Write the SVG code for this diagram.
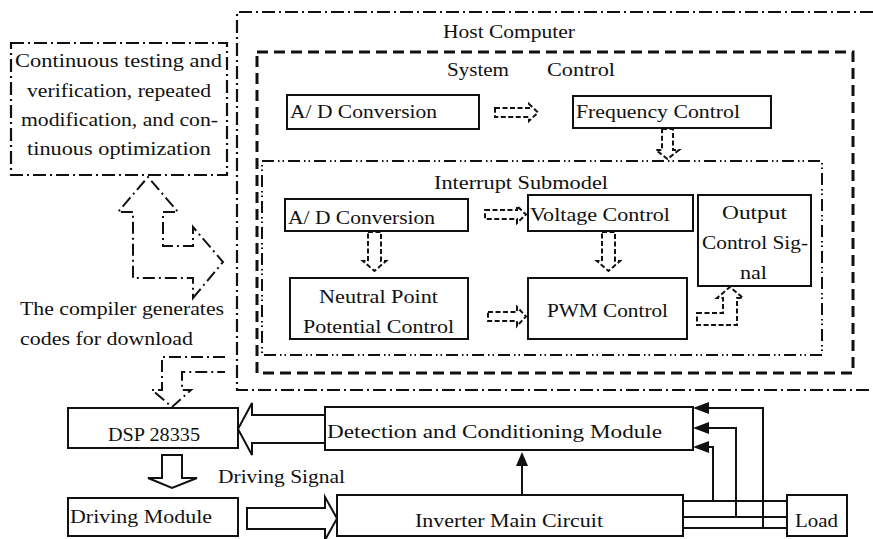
<svg xmlns="http://www.w3.org/2000/svg" width="873" height="539" viewBox="0 0 873 539">
<style>
.t{font-family:"Liberation Serif","Times New Roman",serif;font-size:19px;fill:#111}
.box{fill:#fff;stroke:#111;stroke-width:2}
.dd{fill:none;stroke:#111;stroke-width:2.2;stroke-dasharray:13 4 2 4}
.ddd{fill:none;stroke:#111;stroke-width:2;stroke-dasharray:12 4 1.5 3 1.5 4}
.dash{fill:none;stroke:#111;stroke-width:3;stroke-dasharray:11 6}
.ha{fill:#fff;stroke:#111;stroke-width:2;stroke-dasharray:5 2.5}
.hd{fill:none;stroke:#111;stroke-width:2;stroke-dasharray:12 4 2 4}
.hs{fill:#fff;stroke:#111;stroke-width:2}
.ln{fill:none;stroke:#111;stroke-width:2}
.fh{fill:#111;stroke:none}
</style>
<rect width="873" height="539" fill="#fff"/>

<g id="host-computer">
<path class="dd" d="M873 12 H237 V390 H873"/>
<text class="t" x="443" y="38" textLength="132" lengthAdjust="spacingAndGlyphs">Host Computer</text>
</g>

<g id="system-control">
<rect class="dash" x="257" y="52" width="596" height="321"/>
<text class="t" x="447" y="76" textLength="62" lengthAdjust="spacingAndGlyphs">System</text>
<text class="t" x="547" y="76" textLength="68" lengthAdjust="spacingAndGlyphs">Control</text>
</g>

<g id="ad-conversion-top">
<rect class="box" x="287" y="95" width="192" height="34"/>
<text class="t" x="290" y="118" textLength="147" lengthAdjust="spacingAndGlyphs">A/ D Conversion</text>
</g>

<g id="frequency-control">
<rect class="box" x="573" y="96" width="198" height="32"/>
<text class="t" x="576" y="118" textLength="164" lengthAdjust="spacingAndGlyphs">Frequency Control</text>
</g>

<g id="interrupt-submodel">
<rect class="ddd" x="262" y="161" width="560" height="194"/>
<text class="t" x="434" y="189" textLength="174" lengthAdjust="spacingAndGlyphs">Interrupt Submodel</text>
</g>

<g id="ad-conversion-int">
<rect class="box" x="285" y="199" width="183" height="32"/>
<text class="t" x="288" y="224" textLength="147" lengthAdjust="spacingAndGlyphs">A/ D Conversion</text>
</g>

<g id="voltage-control">
<rect class="box" x="528" y="195" width="165" height="36"/>
<text class="t" x="530" y="221" textLength="140" lengthAdjust="spacingAndGlyphs">Voltage Control</text>
</g>

<g id="output-control-signal">
<rect class="box" x="698" y="195" width="113" height="91"/>
<text class="t" x="722" y="219" textLength="65" lengthAdjust="spacingAndGlyphs">Output</text>
<text class="t" x="702" y="249" textLength="106" lengthAdjust="spacingAndGlyphs">Control Sig-</text>
<text class="t" x="740" y="279" textLength="27" lengthAdjust="spacingAndGlyphs">nal</text>
</g>

<g id="neutral-point">
<rect class="box" x="290" y="278" width="178" height="61"/>
<text class="t" x="319" y="303" textLength="119" lengthAdjust="spacingAndGlyphs">Neutral Point</text>
<text class="t" x="303" y="333" textLength="151" lengthAdjust="spacingAndGlyphs">Potential Control</text>
</g>

<g id="pwm-control">
<rect class="box" x="528" y="278" width="159" height="61"/>
<text class="t" x="547" y="317" textLength="121" lengthAdjust="spacingAndGlyphs">PWM Control</text>
</g>

<g id="continuous-testing">
<rect class="dd" x="11" y="43" width="216" height="132"/>
<text class="t" x="15" y="67" textLength="207" lengthAdjust="spacingAndGlyphs">Continuous testing and</text>
<text class="t" x="27" y="97" textLength="184" lengthAdjust="spacingAndGlyphs">verification, repeated</text>
<text class="t" x="21" y="126" textLength="197" lengthAdjust="spacingAndGlyphs">modification, and con-</text>
<text class="t" x="27" y="155" textLength="184" lengthAdjust="spacingAndGlyphs">tinuous optimization</text>
</g>

<g id="compiler-label">
<text class="t" x="20" y="315" textLength="204" lengthAdjust="spacingAndGlyphs">The compiler generates</text>
<text class="t" x="20" y="345" textLength="173" lengthAdjust="spacingAndGlyphs">codes for download</text>
</g>

<g id="dsp">
<rect class="box" x="68" y="408" width="170" height="40"/>
<text class="t" x="108" y="441" textLength="92" lengthAdjust="spacingAndGlyphs">DSP 28335</text>
</g>

<g id="detection-module">
<rect class="box" x="325" y="407" width="368" height="43"/>
<text class="t" x="327" y="438" textLength="335" lengthAdjust="spacingAndGlyphs">Detection and Conditioning Module</text>
</g>

<g id="driving-module">
<rect class="box" x="68" y="498" width="170" height="38"/>
<text class="t" x="70" y="523" textLength="142" lengthAdjust="spacingAndGlyphs">Driving Module</text>
</g>

<g id="inverter">
<rect class="box" x="337" y="495" width="346" height="41"/>
<text class="t" x="415" y="527" textLength="188" lengthAdjust="spacingAndGlyphs">Inverter Main Circuit</text>
</g>

<g id="load">
<rect class="box" x="787" y="495" width="60" height="41"/>
<text class="t" x="795" y="527" textLength="43" lengthAdjust="spacingAndGlyphs">Load</text>
</g>

<g id="driving-signal-label">
<text class="t" x="218" y="483" textLength="127" lengthAdjust="spacingAndGlyphs">Driving Signal</text>
</g>

<g id="connectors">
<polygon class="ha" points="495,108 529,108 529,104 538,112.5 529,121 529,117 495,117"/>
<polygon class="ha" points="662,129 673,129 673,150 679,150 667.5,159 656,150 662,150"/>
<polygon class="ha" points="485,210 517,210 517,206 526,214.5 517,223 517,219 485,219"/>
<polygon class="ha" points="368,232 381,232 381,261 386,261 374.5,271 363,261 368,261"/>
<polygon class="ha" points="602,232 615,232 615,261 620,261 608.5,271 597,261 602,261"/>
<polygon class="ha" points="488,312 517,312 517,307 526,316.5 517,326 517,321 488,321"/>
<polygon class="ha" points="697,313 723,313 723,298 717,298 730,287 743,298 737,298 737,325 697,325"/>
<polygon class="hd" points="193,298 223,262 193,227 193,246 163,246 163,212 178,212 148,177 118,212 133,212 133,278 193,278"/>
<polyline class="hd" points="225,357 162,357 162,390 152,390 172,407 191,390 182,390 182,372 225,372"/>
<polygon class="hs" points="325,415 252,415 252,403 238,429 252,455 252,443 325,443"/>
<polygon class="hs" points="162,455 182,455 182,478 197,478 172,488 148,478 162,478"/>
<polygon class="hs" points="247,508 325,508 325,497 337,518.5 325,540 325,529 247,529"/>
<path class="ln" d="M522 495 V462"/>
<polygon class="fh" points="516,466 528,466 522,452"/>
<path class="ln" d="M683 501 H787 M683 517 H787 M683 528 H787"/>
<path class="ln" d="M713 501 V447 H706 M736 517 V428 H706 M763 528 V408 H706"/>
<polygon class="fh" points="693,447 709,441 709,453"/>
<polygon class="fh" points="693,428 709,422 709,434"/>
<polygon class="fh" points="693,408 709,402 709,414"/>
</g>
</svg>
